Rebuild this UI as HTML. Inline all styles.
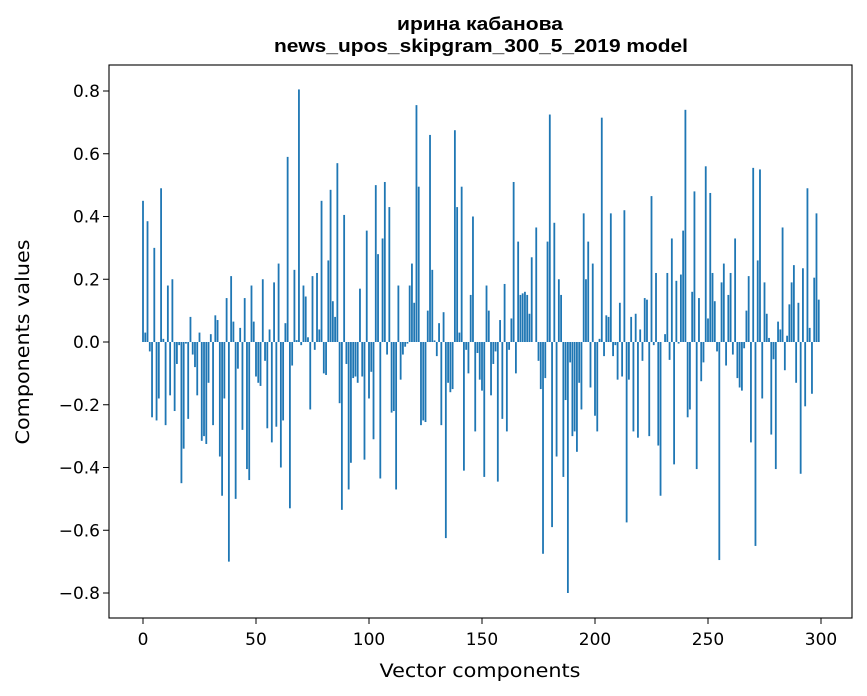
<!DOCTYPE html>
<html><head><meta charset="utf-8">
<style>
html,body{margin:0;padding:0;background:#fff;}
svg{display:block;font-family:"DejaVu Sans","Liberation Sans",sans-serif;}
</style></head>
<body>
<svg id="chart" width="867" height="696" viewBox="0 0 867 696" xmlns="http://www.w3.org/2000/svg">
<rect x="0" y="0" width="867" height="696" fill="#fff"/>
<text x="480" y="30" text-anchor="middle" font-size="18.5" font-weight="bold" font-family="Liberation Sans, sans-serif" textLength="166" lengthAdjust="spacingAndGlyphs">ирина кабанова</text>
<text x="481" y="52" text-anchor="middle" font-size="18.5" font-weight="bold" font-family="Liberation Sans, sans-serif" textLength="414" lengthAdjust="spacingAndGlyphs">news_upos_skipgram_300_5_2019 model</text>
<g id="bars"></g>
<g id="xticks"></g>
<g id="yticks"></g>
<rect x="109" y="65" width="743" height="553" fill="none" stroke="#000" stroke-width="1.1"/>
<text x="480" y="677" text-anchor="middle" font-size="18.5" textLength="201" lengthAdjust="spacingAndGlyphs">Vector components</text>
<text transform="translate(29,342) rotate(-90)" text-anchor="middle" font-size="18.5" textLength="205" lengthAdjust="spacingAndGlyphs">Components values</text>
</svg>
<script>
const values = [
0.45,0.03,0.385,-0.03,-0.24,0.30,-0.25,-0.18,0.49,0.01,
-0.265,0.18,-0.17,0.20,-0.22,-0.07,-0.01,-0.45,-0.34,-0.005,
-0.245,0.08,-0.04,-0.08,-0.17,0.03,-0.315,-0.30,-0.325,-0.13,
0.025,-0.265,0.085,0.07,-0.365,-0.49,-0.18,0.14,-0.70,0.21,
0.065,-0.50,-0.085,0.045,-0.28,0.14,-0.405,-0.44,0.18,0.065,
-0.11,-0.13,-0.14,0.20,-0.06,-0.275,0.04,-0.32,0.19,-0.27,
0.25,-0.40,-0.25,0.06,0.59,-0.53,-0.075,0.23,0.006,0.805,
-0.01,0.18,0.145,0.015,-0.215,0.21,-0.025,0.22,0.04,0.45,
-0.10,-0.105,0.26,0.485,0.13,0.08,0.57,-0.195,-0.535,0.405,
-0.07,-0.47,-0.385,-0.115,-0.11,-0.13,0.17,-0.11,-0.375,0.355,
-0.18,-0.095,-0.31,0.50,0.28,-0.435,0.33,0.51,-0.04,0.43,
-0.225,-0.22,-0.47,0.18,-0.12,-0.04,-0.015,-0.005,0.18,0.25,
0.125,0.755,0.495,-0.265,-0.25,-0.255,0.10,0.66,0.23,0.005,
-0.045,0.06,-0.265,0.095,-0.625,-0.13,-0.16,-0.15,0.675,0.43,
0.03,0.495,-0.41,-0.025,-0.10,0.15,0.40,-0.285,-0.035,-0.12,
-0.155,-0.43,0.18,0.10,-0.17,-0.07,-0.03,-0.445,0.07,-0.245,
0.185,-0.285,-0.025,0.075,0.51,-0.10,0.32,0.15,0.155,0.16,
0.15,0.09,0.27,0.0,0.365,-0.06,-0.15,-0.675,-0.115,0.32,
0.725,-0.59,0.38,-0.365,0.20,0.15,-0.43,-0.185,-0.80,-0.065,
-0.30,-0.285,-0.35,-0.13,-0.215,0.41,0.20,0.32,-0.145,0.25,
-0.235,-0.285,0.01,0.715,-0.045,0.085,0.08,0.41,-0.045,-0.01,
-0.12,0.125,-0.11,0.42,-0.575,-0.12,0.08,-0.285,0.09,-0.305,
0.04,-0.06,0.14,0.135,-0.30,0.465,-0.01,0.22,-0.33,-0.49,
0.0,0.025,0.22,-0.057,0.33,-0.39,0.195,-0.005,0.215,0.355,
0.74,-0.24,-0.215,0.16,0.48,-0.405,0.14,-0.125,-0.065,0.56,
0.075,0.475,0.22,0.13,-0.03,-0.695,0.19,0.25,-0.075,0.15,
0.22,-0.04,0.33,-0.115,-0.145,-0.155,-0.02,0.10,0.21,-0.32,
0.555,-0.65,0.26,0.55,-0.18,0.19,0.09,0.013,-0.295,-0.055,
-0.405,0.065,0.04,0.365,-0.09,0.02,0.12,0.19,0.245,-0.13,
0.125,-0.42,0.235,-0.205,0.49,0.045,-0.165,0.205,0.41,0.135
];
const xTickValues = [0,50,100,150,200,250,300];
const xTickLabels = ["0","50","100","150","200","250","300"];
const yTickValues = [-0.8,-0.6,-0.4,-0.2,0,0.2,0.4,0.6,0.8];
const yTickLabels = ["\u22120.8","\u22120.6","\u22120.4","\u22120.2","0.0","0.2","0.4","0.6","0.8"];

const NS = "http://www.w3.org/2000/svg";
const X0 = 143, XK = 2.26;
const Y0 = 342, YK = 313.75;
function xs(v){ return X0 + v * XK; }
function ys(v){ return Y0 - v * YK; }

const barsG = document.getElementById('bars');
const bw = 0.8 * XK;
values.forEach(function(v, i){
  const r = document.createElementNS(NS, 'rect');
  const yTop = Math.min(ys(v), ys(0));
  const h = Math.abs(ys(v) - ys(0));
  r.setAttribute('x', xs(i) - bw/2);
  r.setAttribute('y', yTop);
  r.setAttribute('width', bw);
  r.setAttribute('height', Math.max(h, 0.01));
  r.setAttribute('fill', '#1f77b4');
  
  
  barsG.appendChild(r);
});

const xg = document.getElementById('xticks');
xTickValues.forEach(function(v, i){
  const l = document.createElementNS(NS, 'line');
  l.setAttribute('x1', xs(v)); l.setAttribute('x2', xs(v));
  l.setAttribute('y1', 618); l.setAttribute('y2', 624);
  l.setAttribute('stroke', '#000'); l.setAttribute('stroke-width', '1');
  
  
  xg.appendChild(l);
  const t = document.createElementNS(NS, 'text');
  t.setAttribute('x', xs(v)); t.setAttribute('y', 645);
  t.setAttribute('text-anchor', 'middle'); t.setAttribute('font-size', '17');
  t.textContent = xTickLabels[i];
  
  
  xg.appendChild(t);
});

const yg = document.getElementById('yticks');
yTickValues.forEach(function(v, i){
  const l = document.createElementNS(NS, 'line');
  l.setAttribute('x1', 103); l.setAttribute('x2', 109);
  l.setAttribute('y1', ys(v)); l.setAttribute('y2', ys(v));
  l.setAttribute('stroke', '#000'); l.setAttribute('stroke-width', '1');
  
  
  yg.appendChild(l);
  const t = document.createElementNS(NS, 'text');
  t.setAttribute('x', 100); t.setAttribute('y', ys(v) + 6);
  t.setAttribute('text-anchor', 'end'); t.setAttribute('font-size', '17');
  t.textContent = yTickLabels[i];
  
  
  yg.appendChild(t);
});
</script>
</body></html>
